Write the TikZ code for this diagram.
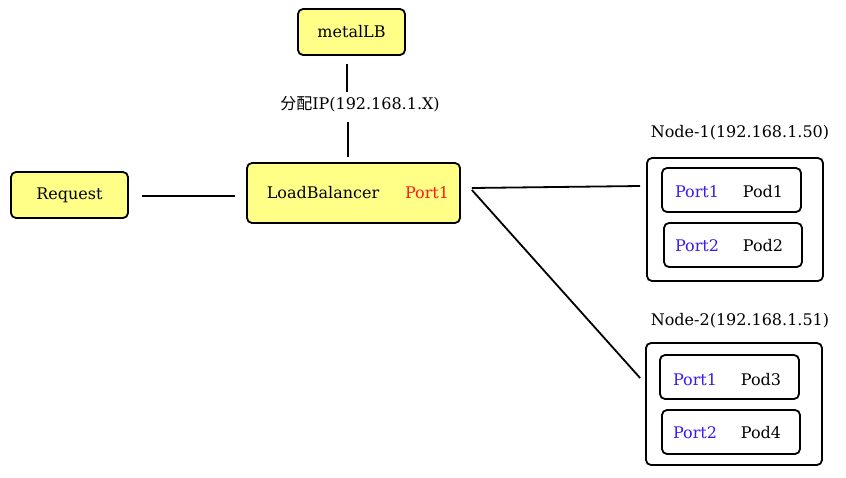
\documentclass[tikz,border=0pt]{standalone}
\usepackage{fontspec}
\setmainfont{DejaVu Serif}
\newfontfamily\cjk{Noto Sans CJK SC}
\definecolor{boxyellow}{HTML}{FFFF88}
\definecolor{portred}{HTML}{FF1A1A}
\definecolor{portblue}{HTML}{3A1AF0}
\begin{document}
\begin{tikzpicture}[x=1pt,y=-1pt,
  every node/.style={font=\fontsize{16}{19}\selectfont, inner sep=0pt},
  ybox/.style={draw, line width=1.8pt, rounded corners=5pt, fill=boxyellow},
  wbox/.style={draw, line width=1.8pt, rounded corners=5pt, fill=white},
  conn/.style={line width=1.8pt}]
\useasboundingbox (0,0) rectangle (846,477);
% boxes
\node[ybox, minimum width=107pt, minimum height=46pt] (mlb) at (351.5,32) {metalLB};
\node[ybox, minimum width=213pt, minimum height=60pt] (lb) at (353.5,193) {};
\node (lbtext) at (323,193) {LoadBalancer};
\node[text=portred] (lbport) at (427,193) {Port1};
\node[ybox, minimum width=117pt, minimum height=46pt] (req) at (69.5,195) {Request};
\node (ip) at (360,104) {{\cjk 分配}IP(192.168.1.X)};
% node 1
\node (n1lab) at (740,133) {Node-1(192.168.1.50)};
\node[wbox, minimum width=176pt, minimum height=123pt] (n1) at (735,219.5) {};
\node[wbox, minimum width=139pt, minimum height=44pt] (p1) at (731.5,190) {};
\node[text=portblue] at (697,192) {Port1};
\node at (763,192) {Pod1};
\node[wbox, minimum width=138pt, minimum height=44pt] (p2) at (733,245) {};
\node[text=portblue] at (697,246) {Port2};
\node at (763,246) {Pod2};
% node 2
\node (n2lab) at (740,321) {Node-2(192.168.1.51)};
\node[wbox, minimum width=176pt, minimum height=122pt] (n2) at (734,404) {};
\node[wbox, minimum width=139pt, minimum height=44pt] (p3) at (729.5,377) {};
\node[text=portblue] at (695,380) {Port1};
\node at (761,380) {Pod3};
\node[wbox, minimum width=138pt, minimum height=44pt] (p4) at (731,432) {};
\node[text=portblue] at (695,433) {Port2};
\node at (761,433) {Pod4};
% connectors
\draw[conn, shorten <=13pt, shorten >=11pt] (req.east |- 0,196) -- (lb.west |- 0,196);
\coordinate (mtop) at ([xshift=-4.5pt,yshift=-8pt]mlb.south);
\coordinate (iptop) at (347,92);
\coordinate (ipbot) at (348,122);
\coordinate (lbtop) at ([xshift=-5.5pt,yshift=5pt]lb.north);
\draw[conn] (mtop) -- (iptop);
\draw[conn] (ipbot) -- (lbtop);
\coordinate (lbout) at ([xshift=11pt,yshift=5pt]lb.east);
\coordinate (lbout2) at ([xshift=11pt,yshift=3pt]lb.east);
\coordinate (n1in) at ([xshift=-6pt,yshift=33.5pt]n1.west);
\coordinate (n2in) at ([xshift=-5pt,yshift=26pt]n2.west);
\draw[conn] (lbout) -- (n1in);
\draw[conn] (lbout2) -- (n2in);
\end{tikzpicture}
\end{document}
